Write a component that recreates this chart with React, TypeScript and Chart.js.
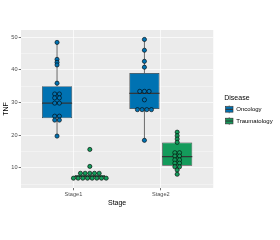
import React, { useEffect, useRef } from 'react';
import { Chart, registerables } from 'chart.js';

Chart.register(...registerables);

const FONT = 'Liberation Sans, Arial, Helvetica, sans-serif';

const STAGES = ['Stage1', 'Stage2'];
const DISEASES = ['Oncology', 'Traumatology'];
const COLORS = ['#0072B2', '#149B5B'];

const Y_TICKS = [5, 10, 15, 20, 25, 30, 35, 40, 45, 50];
const Y_LABELED = [10, 20, 30, 40, 50];

// box statistics, one value per stage
const ONC_Q1 = [25.2, 28.0];
const ONC_MEDIAN = [29.8, 32.8];
const ONC_Q3 = [35.0, 39.0];
const ONC_LOW = [19.7, 18.4];
const ONC_HIGH = [48.4, 49.3];

const TRA_Q1 = [7.1, 10.6];
const TRA_MEDIAN = [7.4, 13.4];
const TRA_Q3 = [7.8, 17.7];
const TRA_LOW = [6.5, 8.0];
const TRA_HIGH = [8.3, 20.9];

const TRA_OUTLIERS_S1 = [15.6, 10.4];

// dot plot values
const ONC_S1 = [48.4, 43.2, 42.3, 41.5, 35.9, 32.6, 32.6, 31.4, 31.4, 29.8, 29.8, 25.8, 25.8, 24.6, 24.6, 19.7];
const TRA_S1 = [15.6, 10.4, 8.3, 8.3, 8.3, 8.3, 8.3, 6.8, 6.8, 6.8, 6.8, 6.8, 6.8, 6.8, 6.8];
const ONC_S2 = [49.3, 46.0, 42.6, 40.8, 33.4, 33.4, 33.4, 30.8, 27.8, 27.8, 27.8, 27.8, 18.4];
const TRA_S2 = [20.9, 19.8, 18.8, 17.8, 14.6, 14.6, 13.6, 13.6, 12.4, 12.4, 11.4, 11.4, 10.3, 10.3, 9.3, 8.0];

const CATEGORY_PCT = 0.75;
const BAR_PCT = 0.92;
const DODGE = CATEGORY_PCT / 4;
const DOT_STEP = 0.0535;

const Q1 = [ONC_Q1, TRA_Q1];
const MED = [ONC_MEDIAN, TRA_MEDIAN];
const Q3 = [ONC_Q3, TRA_Q3];
const LOW = [ONC_LOW, TRA_LOW];
const HIGH = [ONC_HIGH, TRA_HIGH];
const DOTS = [[ONC_S1, ONC_S2], [TRA_S1, TRA_S2]];

function stackDots(values: number[], center: number) {
  const counts = new Map<number, number>();
  values.forEach((v) => counts.set(v, (counts.get(v) || 0) + 1));
  const pts: { x: number; y: number }[] = [];
  counts.forEach((n, v) => {
    for (let k = 0; k < n; k++) pts.push({ x: center + (k - (n - 1) / 2) * DOT_STEP, y: v });
  });
  return pts;
}

const boxPlugin = {
  id: 'boxParts',
  beforeDraw(chart: any) {
    const { ctx, chartArea } = chart;
    ctx.save();
    ctx.fillStyle = '#FFFFFF';
    ctx.fillRect(0, 0, chart.width, chart.height);
    ctx.fillStyle = '#EBEBEB';
    ctx.fillRect(chartArea.left, chartArea.top, chartArea.right - chartArea.left, chartArea.bottom - chartArea.top);
    ctx.restore();
  },
  afterDatasetDraw(chart: any, args: any) {
    const ds = chart.data.datasets[args.index];
    if (ds.type !== 'bar') return;
    const d = ds.diseaseIndex;
    const y = chart.scales.y;
    const ctx = chart.ctx;
    ctx.save();
    ctx.strokeStyle = '#333333';
    args.meta.data.forEach((el: any, j: number) => {
      const x = el.x;
      const w = el.width;
      ctx.lineWidth = 0.7;
      ctx.beginPath();
      ctx.moveTo(x, y.getPixelForValue(Q3[d][j]));
      ctx.lineTo(x, y.getPixelForValue(HIGH[d][j]));
      ctx.moveTo(x, y.getPixelForValue(Q1[d][j]));
      ctx.lineTo(x, y.getPixelForValue(LOW[d][j]));
      ctx.stroke();
      ctx.lineWidth = 1.2;
      ctx.beginPath();
      const my = y.getPixelForValue(MED[d][j]);
      ctx.moveTo(x - w / 2, my);
      ctx.lineTo(x + w / 2, my);
      ctx.stroke();
    });
    ctx.restore();
  },
  afterDraw(chart: any) {
    const legend = chart.legend;
    if (!legend || !legend.legendHitBoxes) return;
    const ctx = chart.ctx;
    const bw = legend.options.labels.boxWidth;
    const bh = legend.options.labels.boxHeight;
    ctx.save();
    legend.legendHitBoxes.forEach((b: any, i: number) => {
      const cx = b.left + bw / 2;
      const cy = b.top + bh / 2;
      const half = bw * 0.47;
      ctx.fillStyle = '#F2F2F2';
      ctx.fillRect(cx - bw / 2, cy - bw / 2, bw, bw);
      ctx.strokeStyle = '#333333';
      ctx.lineWidth = 0.6;
      ctx.beginPath();
      ctx.moveTo(cx, cy - 3.9);
      ctx.lineTo(cx, cy - 2.8);
      ctx.moveTo(cx, cy + 2.8);
      ctx.lineTo(cx, cy + 3.9);
      ctx.stroke();
      ctx.fillStyle = COLORS[i];
      ctx.fillRect(cx - half, cy - 2.8, half * 2, 5.6);
      ctx.strokeRect(cx - half, cy - 2.8, half * 2, 5.6);
      ctx.lineWidth = 1;
      ctx.beginPath();
      ctx.moveTo(cx - half, cy);
      ctx.lineTo(cx + half, cy);
      ctx.stroke();
    });
    ctx.restore();
  },
};

export default function App() {
  const ref = useRef<HTMLCanvasElement | null>(null);

  useEffect(() => {
    document.body.style.margin = '0';
    if (!ref.current) return;

    const boxSets = DISEASES.map((name, i) => ({
      type: 'bar',
      label: name,
      diseaseIndex: i,
      data: STAGES.map((_, j) => ({ x: j + 1, y: [Q1[i][j], Q3[i][j]] })),
      backgroundColor: COLORS[i],
      borderColor: '#333333',
      borderWidth: 0.7,
      borderSkipped: false,
      categoryPercentage: CATEGORY_PCT,
      barPercentage: BAR_PCT,
      order: 3,
    }));

    const outlierSet = {
      type: 'scatter',
      label: 'outliers',
      data: TRA_OUTLIERS_S1.map((v) => ({ x: 1 + DODGE, y: v })),
      pointRadius: 1.6,
      pointBackgroundColor: '#000000',
      pointBorderWidth: 0,
      order: 2,
    };

    const dotSets: any[] = [];
    DISEASES.forEach((name, i) => {
      STAGES.forEach((_, j) => {
        const center = j + 1 + (i === 0 ? -DODGE : DODGE);
        dotSets.push({
          type: 'scatter',
          label: name + ' dots',
          data: stackDots(DOTS[i][j], center),
          pointRadius: 2.1,
          pointBackgroundColor: COLORS[i],
          pointBorderColor: '#000000',
          pointBorderWidth: 0.6,
          order: 1,
        });
      });
    });

    const chart = new Chart(ref.current, {
      type: 'bar',
      data: { datasets: [...boxSets, outlierSet, ...dotSets] as any },
      options: {
        animation: false,
        responsive: false,
        events: [],
        layout: { padding: { top: 30, bottom: 32.6, left: 0, right: -2.7 } },
        plugins: {
          tooltip: { enabled: false },
          legend: {
            display: true,
            position: 'right',
            align: 'center',
            fullSize: false,
            maxWidth: 90,
            title: {
              display: true,
              text: 'Disease',
              position: 'start',
              color: '#000000',
              font: { size: 7, family: FONT },
              padding: { top: 4, bottom: 0 },
            },
            labels: {
              boxWidth: 8,
              boxHeight: 10.7,
              padding: 1,
              color: '#000000',
              font: { size: 6, family: FONT },
              generateLabels: () =>
                DISEASES.map((d, i) => ({
                  text: d,
                  fillStyle: 'rgba(0,0,0,0)',
                  strokeStyle: 'rgba(0,0,0,0)',
                  lineWidth: 0,
                  hidden: false,
                  datasetIndex: i,
                })),
            },
          },
        },
        scales: {
          x: {
            type: 'linear',
            min: 0.4,
            max: 2.6,
            offset: false,
            afterBuildTicks: (axis: any) => {
              axis.ticks = STAGES.map((_, j) => ({ value: j + 1 }));
            },
            ticks: {
              callback: (v: any) => STAGES[Math.round(Number(v)) - 1] ?? '',
              color: '#4D4D4D',
              font: { size: 5.6, family: FONT },
              padding: 1,
              maxRotation: 0,
              autoSkip: false,
            },
            grid: { offset: false, color: '#FFFFFF', lineWidth: 0.7, tickLength: 2.3, tickColor: '#333333', tickWidth: 0.7 },
            border: { display: false },
            title: {
              display: true,
              text: 'Stage',
              color: '#000000',
              font: { size: 7, family: FONT },
              padding: { top: 0, bottom: 0 },
            },
          },
          y: {
            type: 'linear',
            min: 3.8,
            max: 52.2,
            afterBuildTicks: (axis: any) => {
              axis.ticks = Y_TICKS.map((v) => ({ value: v }));
            },
            afterFit: (s: any) => {
              s.width = 21;
            },
            ticks: {
              callback: (v: any) => (Y_LABELED.includes(Number(v)) ? String(v) : ''),
              color: '#4D4D4D',
              font: { size: 5.6, family: FONT },
              padding: 1.2,
              autoSkip: false,
            },
            grid: {
              color: '#FFFFFF',
              lineWidth: (c: any) => (Y_LABELED.includes(c.tick?.value) ? 0.7 : 0.35),
              tickColor: (c: any) => (Y_LABELED.includes(c.tick?.value) ? '#333333' : 'rgba(0,0,0,0)'),
              tickWidth: 0.7,
              tickLength: 2.3,
            },
            border: { display: false },
            title: {
              display: true,
              text: 'TNF',
              color: '#000000',
              font: { size: 7, family: FONT },
              padding: { top: 1.5, bottom: 0 },
            },
          },
          spacer: {
            type: 'linear',
            position: 'right',
            display: true,
            grid: { display: false, drawTicks: false },
            ticks: { display: false },
            border: { display: false },
            title: { display: false },
            afterFit: (s: any) => {
              s.width = 11;
            },
          },
        },
      } as any,
      plugins: [boxPlugin],
    });

    return () => chart.destroy();
  }, []);

  return (
    <div style={{ width: 280, height: 240, background: '#FFFFFF' }}>
      <canvas ref={ref} width={280} height={240} style={{ display: 'block' }} />
    </div>
  );
}
